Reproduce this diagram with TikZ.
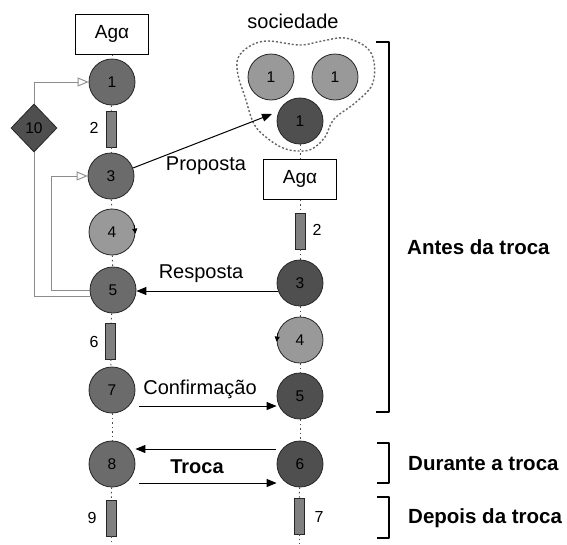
\documentclass[tikz,border=0pt]{standalone}
\usepackage{fontspec}
\setmainfont{Liberation Sans}
\usetikzlibrary{arrows.meta,calc,shapes.geometric}
\definecolor{cMid}{gray}{0.42}
\definecolor{cDark}{gray}{0.31}
\definecolor{cLight}{gray}{0.60}
\definecolor{cBar}{gray}{0.50}
\definecolor{cFeed}{gray}{0.55}
\begin{document}
\begin{tikzpicture}[x=1pt,y=-1pt,
  lbl/.style={font=\fontsize{20}{24}\selectfont, inner sep=0},
  num/.style={font=\fontsize{16}{18}\selectfont, inner sep=0},
  phase/.style={font=\fontsize{20.5}{24}\selectfont\bfseries, anchor=west, inner sep=0},
  state/.style={circle, draw=black!85, line width=0.8pt, minimum size=46pt, inner sep=0,
    font=\fontsize{15.5}{18}\selectfont},
  midst/.style={state, fill=cMid},
  darkst/.style={state, fill=cDark},
  lightst/.style={state, fill=cLight},
  agent/.style={rectangle, draw=black, line width=1pt, fill=white, minimum width=73pt,
    minimum height=40pt, inner sep=0, font=\fontsize{19}{22}\selectfont},
  bar/.style={rectangle, draw=black!85, line width=0.8pt, fill=cBar, minimum width=10pt,
    minimum height=36pt, inner sep=0},
  choice/.style={diamond, draw=black!85, line width=0.8pt, fill=cDark, minimum width=46pt,
    minimum height=48pt, inner sep=0, font=\fontsize{15.5}{18}\selectfont},
  life/.style={line width=1pt, black!70, dash pattern=on 1.5pt off 3pt},
  msg/.style={line width=1pt, -{Triangle[length=10pt,width=8pt]}},
  feed/.style={line width=0.9pt, cFeed},
  feedarr/.style={feed, -{Triangle[open,length=11pt,width=9pt,fill=white]}},
  turn/.style={line width=0.7pt, -{Triangle[length=5pt,width=5pt]}},
  brk/.style={line width=2.6pt, line join=round},
  blob/.style={line width=1.4pt, black!60, dash pattern=on 2pt off 2pt}
]
\useasboundingbox[fill=white] (0,0) rectangle (567,544);

% group of agents (society)
\draw[blob] plot[smooth cycle, tension=0.6] coordinates {
  (250,46) (268,41) (300,45) (322,41) (345,38) (366,47) (374,62) (372,85)
  (355,103) (334,119) (325,137) (312,149) (298,151) (283,148) (267,138)
  (254,124) (245,97) (238,75) (238,58)};
\node[lbl] (soc) at (293,21) {sociedade};
\node[lightst] (s1a) at (271,77) {1};
\node[lightst] (s1b) at (335,77) {1};
\node[darkst] (r1) at (300,121) {1};

% left agent lifeline
\node[agent] (la) at (112,34) {Agα};
\node[midst] (l1) at (112,82) {1};
\node[bar] (l2) at (111,129) {};
\node[midst] (l3) at (111,176) {3};
\node[lightst] (l4) at (112,232) {4};
\node[midst] (l5) at (113,290) {5};
\node[bar] (l6) at (110,341) {};
\node[midst] (l7) at (112,390) {7};
\node[midst] (l8) at (112,464) {8};
\node[bar] (l9) at (111,518) {};
\coordinate (lbot) at (111,544);
\node[num] (l2t) at (94,128) {2};
\node[num] (l6t) at (94,342) {6};
\node[num] (l9t) at (92,518) {9};
\node[choice] (d10) at (34,128) {10};

% right agent lifeline
\node[agent] (ra) at (300,179) {Agα};
\node[bar] (r2) at (300,231) {};
\node[darkst] (r3) at (300,283) {3};
\node[lightst] (r4) at (300,340) {4};
\node[darkst] (r5) at (300,396) {5};
\node[darkst] (r6) at (300,464) {6};
\node[bar] (r7) at (299,516) {};
\coordinate (rbot) at (299,544);
\node[num] (r2t) at (317,230) {2};
\node[num] (r7t) at (319,517) {7};

% lifeline segments
\foreach \a/\b in {la/l1,l1/l2,l2/l3,l3/l4,l4/l5,l5/l6,l6/l7,l7/l8,l8/l9,l9/lbot,
                   r1/ra,ra/r2,r2/r3,r3/r4,r4/r5,r5/r6,r6/r7,r7/rbot}
  \draw[life] (\a) -- (\b);

% internal processing marks
\draw[turn] (l4.18) -- (l4.-4);
\draw[turn] (r4.162) -- (r4.184);

% feedback loops
\draw[feed] (l5.195) -| (d10.south);
\draw[feedarr] (d10.north) |- (l1.west);
\draw[feedarr] (l5.west) -| ($(l3.west)+(-36,0)$) -- (l3.west);

% messages
\coordinate (ptip) at (272,114);
\draw[msg] (l3.20) -- (ptip);
\node[lbl] (prop) at (206,166) {Proposta};
\draw[msg] (r3.200) -- (r3.200 -| l5.east);
\node[lbl] (resp) at (201,274) {Resposta};
\coordinate (cst) at (139,406);
\draw[msg] (cst) -- (cst -| r5.west);
\node[lbl] (conf) at (200,389) {Confirmação};
\coordinate (tst1) at (276,449);
\draw[msg] (tst1) -- (tst1 -| l8.east);
\coordinate (tst2) at (139,483);
\draw[msg] (tst2) -- (tst2 -| r6.west);
\node[lbl, font=\fontsize{20}{24}\selectfont\bfseries] (troca) at (197,467) {Troca};

% phases
\draw[brk] (376,42) -| (389,412) -- (376,412);
\draw[brk] (377,443) -| (389,483) -- (377,483);
\draw[brk] (377,497) -| (389,538) -- (377,538);
\node[phase] (antes) at (407,247) {Antes da troca};
\node[phase] (durante) at (408,464) {Durante a troca};
\node[phase] (depois) at (408,518) {Depois da troca};
\end{tikzpicture}
\end{document}
